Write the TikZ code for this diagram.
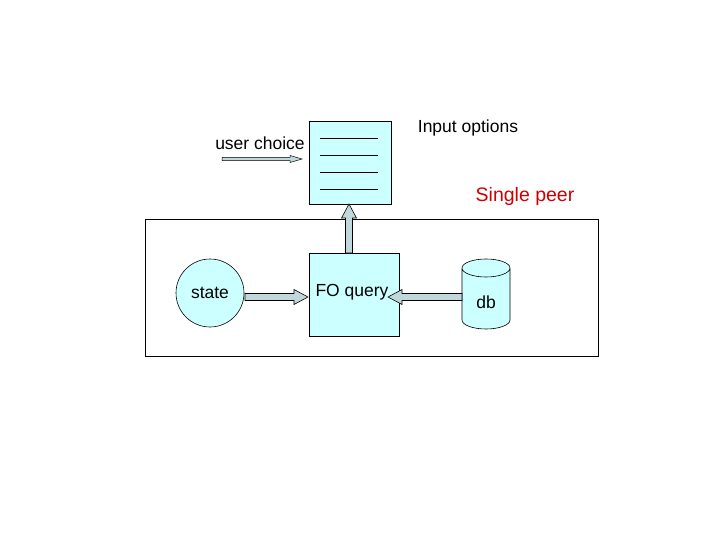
\documentclass[tikz,border=0pt]{standalone}
\usepackage{fontspec}
\setmainfont{Liberation Sans}
\usetikzlibrary{calc}
\definecolor{cyanfill}{HTML}{CCFFFF}
\definecolor{arrfill}{HTML}{C0D8DC}
\definecolor{peerred}{HTML}{CC0000}
\begin{document}
\begin{tikzpicture}[x=1pt,y=-1pt,font=\fontsize{17.5}{19}\selectfont,
  box/.style={draw,fill=cyanfill,line width=0.6pt},
  blkarrow/.style n args={3}{to path={
    ($(\tikztostart)!#1!90:(\tikztotarget)$) --
    ($($(\tikztotarget)!#3!(\tikztostart)$)!#1!90:(\tikztotarget)$) --
    ($($(\tikztotarget)!#3!(\tikztostart)$)!#2!90:(\tikztotarget)$) --
    (\tikztotarget) --
    ($($(\tikztotarget)!#3!(\tikztostart)$)!#2!-90:(\tikztotarget)$) --
    ($($(\tikztotarget)!#3!(\tikztostart)$)!#1!-90:(\tikztotarget)$) --
    ($(\tikztostart)!#1!-90:(\tikztotarget)$) -- cycle}},
  blk/.style={draw,fill=arrfill,blkarrow={3.5pt}{7.5pt}{14pt},line width=0.6pt},
  thinblk/.style={draw,fill=arrfill,blkarrow={1.6pt}{3.5pt}{12pt},line width=0.5pt}]
\useasboundingbox (0,0) rectangle (720,540);
\node[draw,line width=0.6pt,minimum width=453pt,minimum height=137pt,inner sep=0pt] (peer) at (371.5,287.5) {};
\node[box,minimum width=82pt,minimum height=83pt,inner sep=0pt] (opt) at (350,162.5) {};
\foreach \yy in {138,155,172,189} \draw (320,\yy) -- (378,\yy);
\node (uc) at (260,143) {user choice};
\coordinate (ucs) at (222,159);
\coordinate (uce) at (302,159);
\draw[thinblk] (ucs) to (uce);
\node (io) at (468,128) {Input options};
\node[text=peerred,font=\fontsize{19.5}{21}\selectfont] (sp) at (525,196) {Single peer};
\node[circle,box,minimum size=68pt,inner sep=0pt] (state) at (210,293) {};
\node at (210,293) {state};
\node[box,minimum width=90pt,minimum height=83pt,inner sep=0pt] (fo) at (354,294.5) {};
\node (foq) at (352,292) {FO query};
% cylinder
\draw[box] (462,268) -- (462,320) arc[start angle=180,end angle=360,x radius=24,y radius=-9] -- (510,268) arc[start angle=0,end angle=360,x radius=24,y radius=-9];
\node (db) at (486,302) {db};
\coordinate (sa) at (245,297);
\coordinate (sb) at (308,297);
\draw[blk] (sa) to (sb);
\coordinate (da) at (462,297);
\coordinate (db2) at (388,297);
\draw[blk] (da) to (db2);
\coordinate (fa) at (349,253);
\coordinate (fb) at (349,204);
\draw[blk] (fa) to (fb);
\end{tikzpicture}
\end{document}
